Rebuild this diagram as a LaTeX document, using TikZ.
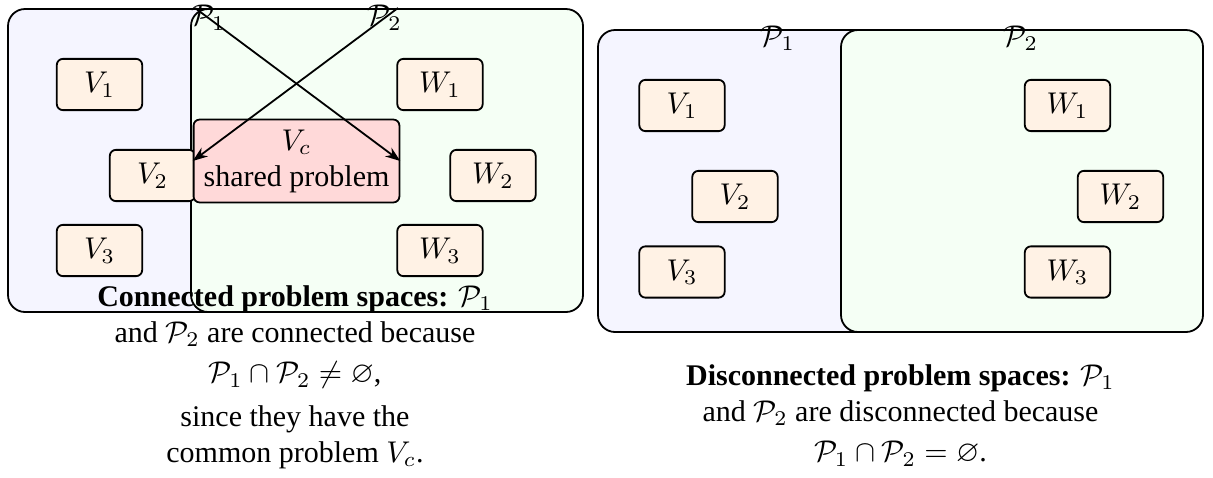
\documentclass[tikz,border=0pt]{standalone}
\usepackage{amssymb}
\usepackage{fontspec}
\setmainfont{Liberation Serif}
\usetikzlibrary{arrows.meta}

\begin{document}
\begin{tikzpicture}[x=0.3333pt,y=-0.3333pt,
 prob/.style={draw,semithick,rounded corners=2pt,fill=orange!10,
 minimum width=1cm,minimum height=0.6cm},
 shared/.style={prob,fill=red!15,align=center},
 spaceA/.style={draw,semithick,rounded corners=0.2cm,fill=blue!4},
 spaceB/.style={spaceA,fill=green!4},
 capText/.style={align=center,inner sep=0pt,anchor=north},
 arr/.style={-{Stealth[length=5pt,width=3.6pt]},semithick}]
 \useasboundingbox (0,0) rectangle (1213,477);
 % connected problem spaces
 \draw[spaceA] (8,9) rectangle (440,312);
 \draw[spaceB] (191,9) rectangle (583,312);
 \node[prob] (v1) at (99.5,84.5) {$V_1$};
 \node[prob] (v2) at (152.5,175.5) {$V_2$};
 \node[prob] (v3) at (99.5,250.5) {$V_3$};
 \node[prob] (w1) at (440,84.5) {$W_1$};
 \node[prob] (w2) at (493,175.5) {$W_2$};
 \node[prob] (w3) at (440,250.5) {$W_3$};
 \node[shared] (vc) at (296.5,161) {$V_c$\\shared problem};
 \coordinate (s1) at (195,8);
 \coordinate (s2) at (398,8);
 \draw[arr] (s1) -- node[pos=0.065]{$\mathcal{P}_1$} (vc.east);
 \draw[arr] (s2) -- node[pos=0.065]{$\mathcal{P}_2$} (vc.west);
 \node[capText] (capL) at (295,285) {\textbf{Connected problem spaces:} $\mathcal{P}_1$\\
 and $\mathcal{P}_2$ are connected because\\[1.5pt]
 $\mathcal{P}_1\cap\mathcal{P}_2\neq\varnothing$,\\[2.5pt]
 since they have the\\common problem $V_c$.};
 % disconnected problem spaces
 \draw[spaceA] (598,30) rectangle (954,332);
 \draw[spaceB] (841,30) rectangle (1203,332);
 \node (p1) at (778,38) {$\mathcal{P}_1$};
 \node (p2) at (1021,38) {$\mathcal{P}_2$};
 \node[prob] (x1) at (682,105.5) {$V_1$};
 \node[prob] (x2) at (735,196.5) {$V_2$};
 \node[prob] (x3) at (682,272) {$V_3$};
 \node[prob] (y1) at (1067.5,105.5) {$W_1$};
 \node[prob] (y2) at (1120.5,196.5) {$W_2$};
 \node[prob] (y3) at (1067.5,272) {$W_3$};
 \node[capText] (capR) at (900.5,364) {\textbf{Disconnected problem spaces:} $\mathcal{P}_1$\\
 and $\mathcal{P}_2$ are disconnected because\\[1.5pt]
 $\mathcal{P}_1\cap\mathcal{P}_2=\varnothing$.};
\end{tikzpicture}
\end{document}
